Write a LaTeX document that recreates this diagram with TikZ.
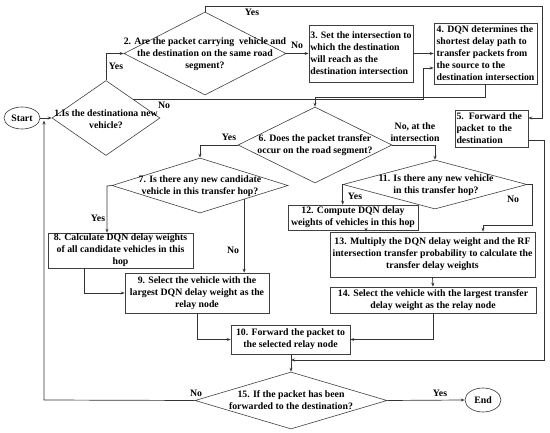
\documentclass[tikz,border=0pt]{standalone}
\usepackage{fontspec}
\setmainfont{Liberation Serif}
\usetikzlibrary{shapes.geometric,arrows.meta}
\begin{document}
\begin{tikzpicture}[x=1pt,y=-1pt,
  every node/.style={font=\fontsize{9.8}{12}\selectfont\bfseries},
  ln/.style={draw=black!80, line width=0.7pt},
  arr/.style={ln, -{Stealth[length=4pt,width=3pt]}},
  dia/.style={diamond, draw=black!75, line width=0.6pt, inner sep=0pt},
  box/.style={rectangle, draw=black!75, line width=0.6pt, inner xsep=1.5pt, inner ysep=0.5pt},
  ell/.style={ellipse, draw=black!80, line width=0.6pt, inner sep=0pt},
  txt/.style={align=center, inner sep=0pt},
  lbl/.style={inner sep=0pt}]
\useasboundingbox (0,0) rectangle (550,433);

% terminals
\node[ell, minimum width=36, minimum height=22] (start) at (22,118) {Start};
\node[ell, minimum width=36, minimum height=24] (end) at (483,400) {End};

% decisions
\node[dia, minimum width=108, minimum height=75] (d1) at (106,118) {};
\node[txt] (t1) at (106,119) {1.Is the destinationa new\\vehicle?};
\node[dia, minimum width=162, minimum height=83] (d2) at (205,53.5) {};
\node[txt] (t2) at (205,54) {2. Are the packet carrying\ \ vehicle and\\the destination on the same road\\segment?};
\node[dia, minimum width=154, minimum height=76] (d6) at (315,145) {};
\node[txt] (t6) at (315,145) {6. Does the packet transfer\\occur on the road segment?};
\node[dia, minimum width=176, minimum height=55] (d7) at (200,185.5) {};
\node[txt] (t7) at (200,186) {7. Is there any new candidate\\vehicle in this transfer hop?};
\node[dia, minimum width=184, minimum height=49] (d11) at (435,184.5) {};
\node[txt] (t11) at (436,185) {11. Is there any new vehicle\\in this transfer hop?};
\node[dia, minimum width=192, minimum height=57] (d15) at (291,400.5) {};
\node[txt] (t15) at (291,400) {15. If the packet has been\\forwarded to the destination?};

% process boxes
\node[box, align=left, minimum width=104, minimum height=57] (b3) at (361,53.5)
  {3. Set the intersection to\\which the destination\\will reach as the\\destination intersection};
\node[box, align=left, minimum width=103, minimum height=61] (b4) at (485.5,53.5)
  {4. DQN determines the\\shortest delay path to\\transfer packets from\\the source to the\\destination intersection};
\node[box, text width=70, align=left, minimum height=37] (b5) at (491.5,128.5)
  {5. Forward the\\packet to the\\destination};
\node[box, align=center, minimum width=145, minimum height=35] (b8) at (120.5,250.5)
  {8. Calculate DQN delay weights\\of all candidate vehicles in this\\hop};
\node[box, align=center, minimum width=144, minimum height=40] (b9) at (197,293)
  {9. Select the vehicle with the\\largest DQN delay weight as the\\relay node};
\node[box, align=center, minimum width=119, minimum height=29] (b10) at (290.5,339.5)
  {10. Forward the packet to\\the selected relay node};
\node[box, align=center, minimum width=130, minimum height=25] (b12) at (353,217.5)
  {12. Compute DQN delay\\weights of vehicles in this hop};
\node[box, align=center, minimum width=205, minimum height=45] (b13) at (432.5,254.5)
  {13. Multiply the DQN delay weight and the RF\\intersection transfer probability to calculate the\\transfer delay weights};
\node[box, align=center, minimum width=206, minimum height=26] (b14) at (433,300)
  {14. Select the vehicle with the largest transfer\\delay weight as the relay node};

% labels
\node[lbl] (l1) at (116,66) {Yes};
\node[lbl] (l2) at (252,12) {Yes};
\node[lbl] (l3) at (297,45) {No};
\node[lbl] (l4) at (164,105) {No};
\node[lbl] (l5) at (229,137) {Yes};
\node[lbl, align=center] (l6) at (415,132) {No, at the\\intersection};
\node[lbl] (l7) at (98,218) {Yes};
\node[lbl] (l8) at (233,250) {No};
\node[lbl] (l9) at (355,196) {Yes};
\node[lbl] (l10) at (513,199) {No};
\node[lbl] (l11) at (196,393) {No};
\node[lbl] (l12) at (440,393) {Yes};

% coordinates
\coordinate (tr) at (542,6);
\coordinate (b5in) at (542,118);
\coordinate (c2) at (423,68);
\coordinate (c3) at (315,97);
\coordinate (c4) at (107,186);
\coordinate (c5) at (84,293);
\coordinate (c6) at (532,225);
\coordinate (c6b) at (483,225);
\coordinate (c7) at (366,0);
\coordinate (c8) at (544,140);
\coordinate (c9) at (544,360);
\coordinate (c10) at (44,400);
\coordinate (c11) at (44,120.5);

% connectors
\draw[arr] (start) -- (d1.west);
\draw[arr] (d1.north) |- (d2.west);
\draw[arr] (d2.north) |- (tr) -- (b5in) -- (b5in -| b5.east);
\draw[arr] (d2.east) -- (b3.west);
\draw[arr] (b3.east) -- (b4.west);
\draw[arr] (d1.north east) -| (c2) -- (c2 -| b4.west);
\draw[arr] (b4.south) |- (c3) -- (d6.north);
\draw[arr] (d6.west) -| (d7.north);
\draw[arr] (d6.east) -| (d11.north);
\draw[arr] (d7.west) -- (c4) -- (c4 |- b8.north);
\draw[arr] (d7.south east) -- (d7.south east |- b9.north);
\draw[arr] (c5 |- b8.south) -- (c5) -- (c5 -| b9.west);
\draw[arr] (b9.south) |- (b10.west);
\draw[arr] (d11.west) -- (d11.west |- b12.north);
\draw[arr] (d11.east) -| (c6) -- (c6b) -- (c6b |- b13.north);
\draw[arr] (c7 |- b12.south) -- (c7 |- b13.north);
\draw[arr] (b13.south) -- (b14.north);
\draw[arr] (b14.south) |- (b10.east);
\draw[arr] (c8 -| b5.east) -- (c8) -- (c9) -- (c9 -| d15.north);
\draw[arr] (b10.south -| d15.north) -- (d15.north);
\draw[arr] (d15.east) -- (end.west);
\draw[arr] (d15.west) -- (c10) -- (c11);
\end{tikzpicture}
\end{document}
